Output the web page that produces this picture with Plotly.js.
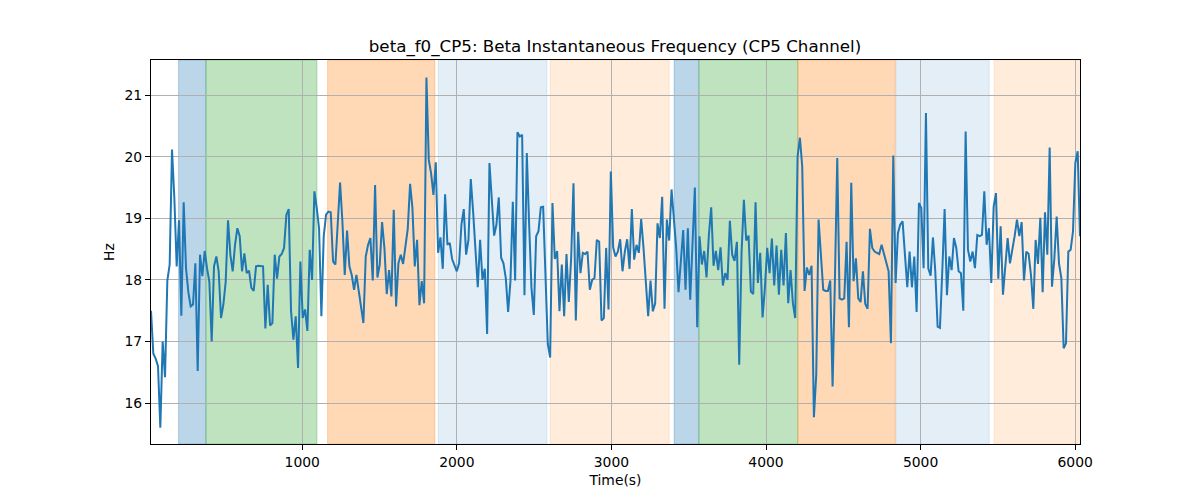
<!DOCTYPE html>
<html>
<head>
<meta charset="utf-8">
<script src="https://cdn.plot.ly/plotly-3.0.1.min.js"></script>
<style>html,body{margin:0;padding:0;background:#fff}#chart{width:1200px;height:500px}</style>
</head>
<body>
<div id="chart"></div>
<script>
// Sampling of the time axis (seconds)
const T0 = 21.5;
const DT = 15.1;

// Beta instantaneous frequency (Hz)
const freqHz = [
  17.5, 16.8, 16.72, 16.6, 15.6, 17.0, 16.42, 17.99, 18.25, 20.12, 19.33, 18.22, 18.97, 17.42, 19.26, 18.19, 17.80, 17.57, 17.60, 18.27, 16.52, 18.41, 18.06, 18.47, 18.19, 17.97, 17.00, 18.22, 18.38, 18.14, 17.38, 17.60, 17.97, 18.97, 18.41, 18.14, 18.57, 18.84, 18.71, 18.14, 18.43, 18.11, 18.15, 17.87, 17.82,
  18.22, 18.23, 18.22, 18.22, 17.21, 17.92, 17.26, 17.30, 18.41, 18.02, 18.38, 18.42, 18.52, 19.06, 19.15, 17.49, 17.03, 17.41, 16.57, 18.30, 17.38, 17.52, 17.17, 18.49, 18.00, 19.44, 19.17, 18.84, 17.41, 18.71, 19.06, 19.11, 19.10, 18.30, 18.25, 18.9, 19.58, 18.95, 18.08, 18.80, 18.22, 18.08, 17.84, 18.08,
  17.81, 17.62, 17.30, 18.38, 18.57, 18.68, 17.99, 19.54, 18.04, 18.25, 18.94, 18.52, 17.77, 18.16, 17.73, 19.14, 17.57, 18.27, 18.41, 18.26, 18.52, 18.83, 19.56, 19.17, 18.22, 18.65, 17.59, 17.98, 17.62, 21.29, 19.95, 19.73, 19.38, 19.91, 18.44, 18.69, 18.18, 19.39, 18.57, 18.60, 18.34, 18.25, 18.14,
  18.27, 18.90, 19.15, 18.41, 18.65, 19.64, 19.11, 18.46, 17.88, 18.65, 18.00, 18.18, 17.12, 19.90, 19.27, 18.72, 18.90, 19.34, 18.36, 18.27, 18.03, 17.48, 17.98, 19.27, 17.99, 20.40, 20.33, 20.36, 17.75, 20.06, 18.90, 17.87, 17.43, 18.71, 18.79, 19.18, 19.19, 17.87, 16.96, 16.74, 19.25, 18.34, 18.47, 17.49,
  18.25, 17.41, 18.42, 17.64, 18.35, 19.57, 17.34, 18.78, 18.11, 18.44, 18.42, 18.46, 17.84, 18.00, 18.03, 18.65, 18.62, 17.34, 17.38, 18.52, 17.52, 19.76, 18.53, 18.38, 18.46, 18.66, 18.14, 18.46, 18.66, 18.18, 19.15, 18.33, 18.57, 18.44, 18.99, 18.52, 17.87, 17.41, 17.99, 17.49, 17.62, 18.92, 18.68, 19.35,
  17.53, 18.98, 18.64, 19.47, 19.00, 18.52, 17.80, 18.25, 18.81, 17.84, 18.84, 17.68, 18.62, 19.50, 17.23, 18.71, 18.25, 18.47, 18.04, 18.73, 19.18, 18.23, 18.47, 18.16, 18.53, 17.91, 18.11, 18.00, 18.96, 18.41, 18.31, 18.62, 16.62, 18.44, 19.30, 18.64, 18.72, 17.81, 17.77, 19.26, 17.95, 18.44, 17.39, 17.87,
  18.52, 18.11, 18.67, 17.91, 18.56, 17.76, 18.49, 17.91, 18.76, 17.62, 18.16, 17.62, 17.38, 20.00, 20.31, 19.84, 17.82, 18.20, 18.08, 18.23, 15.77, 16.46, 18.98, 18.38, 17.84, 17.82, 17.82, 17.99, 16.27, 18.0, 19.98, 17.70, 17.68, 17.70, 18.62, 17.23, 19.58, 17.98, 18.35, 17.70, 17.64, 18.14, 17.61,
  17.53, 18.83, 18.52, 18.46, 18.44, 18.42, 18.57, 18.42, 18.27, 18.14, 16.97, 20.02, 17.95, 18.76, 18.90, 18.95, 18.41, 17.88, 18.46, 17.88, 18.38, 17.48, 19.25, 19.17, 18.19, 20.71, 18.19, 18.07, 18.69, 18.14, 17.24, 17.22, 18.14, 19.15, 17.75, 18.38, 18.16, 18.68, 18.52, 18.14, 18.11, 17.50, 20.41,
  18.49, 18.30, 18.46, 18.19, 18.73, 18.71, 18.73, 19.44, 18.57, 18.84, 17.95, 19.19, 19.41, 18.02, 18.87, 17.76, 18.30, 18.68, 18.27, 18.46, 18.71, 18.98, 18.71, 18.94, 17.99, 18.46, 18.42, 18.08, 17.53, 18.65, 18.26, 19.01, 17.80, 19.10, 18.41, 20.15, 17.89, 18.34, 19.03, 18.27, 18.03, 16.89, 16.97, 18.46, 18.49, 18.79, 19.90, 20.09, 18.71
];

// Shaded segments (seconds) and their kind
const segStart = [200, 377, 1164, 1880, 2604, 3406, 3566, 4206, 4840, 5476];
const segEnd   = [377, 1095, 1858, 2583, 3374, 3566, 4206, 4836, 5444, 6040];
const segKind  = ['blue', 'green', 'orange', 'lightblue', 'lightorange', 'blue', 'green', 'orange', 'lightblue', 'lightorange'];

// Tick labels
const xTicks = [1000, 2000, 3000, 4000, 5000, 6000];
const yTicks = [16, 17, 18, 19, 20, 21];

const kindColor = {
  blue: 'rgba(31,119,180,0.3)',
  green: 'rgba(44,160,44,0.3)',
  orange: 'rgba(255,127,14,0.3)',
  lightblue: 'rgba(31,119,180,0.12)',
  lightorange: 'rgba(255,127,14,0.15)'
};

const timeS = freqHz.map((_, i) => T0 + i * DT);

const shapes = segStart.map((s, k) => ({
  type: 'rect', xref: 'x', yref: 'paper', x0: s, x1: segEnd[k], y0: 0, y1: 1,
  fillcolor: kindColor[segKind[k]],
  line: {color: kindColor[segKind[k]], width: 1},
  layer: 'below'
}));

const trace = {
  x: timeS, y: freqHz, type: 'scatter', mode: 'lines',
  line: {color: '#1f77b4', width: 2}, hoverinfo: 'skip'
};

const font = {family: 'DejaVu Sans, sans-serif', color: '#000'};

const layout = {
  width: 1200, height: 500,
  margin: {l: 151, r: 120, t: 60, b: 56},
  paper_bgcolor: '#fff', plot_bgcolor: '#fff',
  showlegend: false,
  font: Object.assign({size: 13.9}, font),
  title: {
    text: 'beta_f0_CP5: Beta Instantaneous Frequency (CP5 Channel)',
    font: Object.assign({size: 16.7}, font),
    x: 0.5125, xanchor: 'center', xref: 'container',
    y: 1 - 46 / 500, yanchor: 'middle', yref: 'container'
  },
  xaxis: {
    range: [timeS[0], timeS[timeS.length - 1]],
    tickvals: xTicks, ticktext: xTicks.map(String),
    showgrid: true, gridcolor: '#b0b0b0', gridwidth: 1,
    zeroline: false,
    showline: true, mirror: true, linecolor: '#000', linewidth: 1,
    ticks: 'outside', ticklen: 5, tickcolor: '#000', tickwidth: 1,
    tickfont: Object.assign({size: 13.9}, font),
    title: {text: 'Time(s)', font: Object.assign({size: 13.9}, font), standoff: 6}
  },
  yaxis: {
    range: [15.334, 21.573],
    tickvals: yTicks, ticktext: yTicks.map(String),
    showgrid: true, gridcolor: '#b0b0b0', gridwidth: 1,
    zeroline: false,
    showline: true, mirror: true, linecolor: '#000', linewidth: 1,
    ticks: 'outside', ticklen: 5, tickcolor: '#000', tickwidth: 1,
    tickfont: Object.assign({size: 13.9}, font),
    title: {text: 'Hz', font: Object.assign({size: 13.9}, font), standoff: 6}
  },
  shapes: shapes
};

Plotly.newPlot('chart', [trace], layout, {displayModeBar: false, staticPlot: true});
</script>
</body>
</html>
